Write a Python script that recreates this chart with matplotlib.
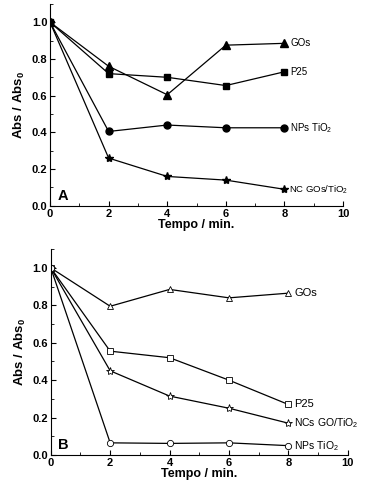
import numpy as np
import matplotlib
matplotlib.use("Agg")
import matplotlib.pyplot as plt
from matplotlib.ticker import MultipleLocator

plt.rcParams['font.family'] = ['Liberation Sans', 'DejaVu Sans']
plt.rcParams['mathtext.fontset'] = 'custom'
plt.rcParams['mathtext.rm'] = 'Liberation Sans'
plt.rcParams['mathtext.it'] = 'Liberation Sans'
plt.rcParams['mathtext.bf'] = 'Liberation Sans:bold'

t = [0, 2, 4, 6, 8]

# panel A
a_gos = [1.0, 0.76, 0.605, 0.875, 0.885]
a_p25 = [1.0, 0.72, 0.70, 0.655, 0.73]
a_nps = [1.0, 0.405, 0.44, 0.425, 0.425]
a_nc = [1.0, 0.26, 0.16, 0.14, 0.09]

# panel B
b_gos = [1.0, 0.795, 0.885, 0.84, 0.865]
b_p25 = [1.0, 0.555, 0.52, 0.40, 0.27]
b_nc = [1.0, 0.45, 0.315, 0.25, 0.17]
b_nps = [1.0, 0.065, 0.062, 0.065, 0.05]

xticks = [0, 2, 4, 6, 8, 10]
yticks = [0.0, 0.2, 0.4, 0.6, 0.8, 1.0]

fig = plt.figure(figsize=(3.68, 4.82), dpi=100)
axA = fig.add_axes([0.136, 0.573, 0.796, 0.419])
axB = fig.add_axes([0.138, 0.056, 0.807, 0.427])


def style(ax, letter):
    ax.set_xlim(0, 10)
    ax.set_ylim(0, 1.1)
    ax.spines['top'].set_visible(False)
    ax.spines['right'].set_visible(False)
    ax.xaxis.set_minor_locator(MultipleLocator(1))
    ax.yaxis.set_minor_locator(MultipleLocator(0.1))
    ax.tick_params(which='both', direction='in', pad=2)
    ax.tick_params(which='major', length=3.5)
    ax.tick_params(which='minor', length=2)
    ax.set_yticks(yticks)
    ax.set_yticklabels(['%.1f' % v for v in yticks], fontweight='bold', fontsize=8)
    ax.set_xticks(xticks)
    ax.set_xticklabels([str(v) for v in xticks], fontweight='bold', fontsize=8)
    ax.set_xlabel('Tempo / min.', fontweight='bold', fontsize=9, labelpad=0)
    ax.set_ylabel(r'$\mathbf{Abs\ /\ Abs_0}$', fontsize=9.5, labelpad=3)
    ax.text(0.25, 0.03, letter, fontweight='bold', fontsize=10.5)


axA.plot(t, a_gos, marker='^', color='black', lw=0.9, ms=5.5)
axA.plot(t, a_p25, marker='s', color='black', lw=0.9, ms=4.5)
axA.plot(t, a_nps, marker='o', color='black', lw=0.9, ms=5)
axA.plot(t, a_nc, marker='*', color='black', lw=0.9, ms=6)
axA.text(8.2, a_gos[-1], 'GOs', fontsize=7, va='center')
axA.text(8.2, a_p25[-1], 'P25', fontsize=7, va='center')
axA.text(8.2, a_nps[-1], 'NPs TiO$_2$', fontsize=7, va='center')
axA.text(8.15, a_nc[-1], 'NC GOs/TiO$_2$', fontsize=6.8, va='center')
style(axA, 'A')

okw = dict(color='black', lw=0.9, mfc='white', mew=0.6)
axB.plot(t, b_gos, marker='^', ms=4.5, **okw)
axB.plot(t, b_p25, marker='s', ms=4, **okw)
axB.plot(t, b_nc, marker='*', ms=6, **okw)
axB.plot(t, b_nps, marker='o', ms=4.5, **okw)
axB.text(8.2, b_gos[-1], 'GOs', fontsize=8, va='center')
axB.text(8.2, b_p25[-1], 'P25', fontsize=8, va='center')
axB.text(8.2, b_nc[-1], 'NCs GO/TiO$_2$', fontsize=7.5, va='center')
axB.text(8.2, b_nps[-1], 'NPs TiO$_2$', fontsize=7.5, va='center')
style(axB, 'B')

fig.savefig('out.png', dpi=100)
